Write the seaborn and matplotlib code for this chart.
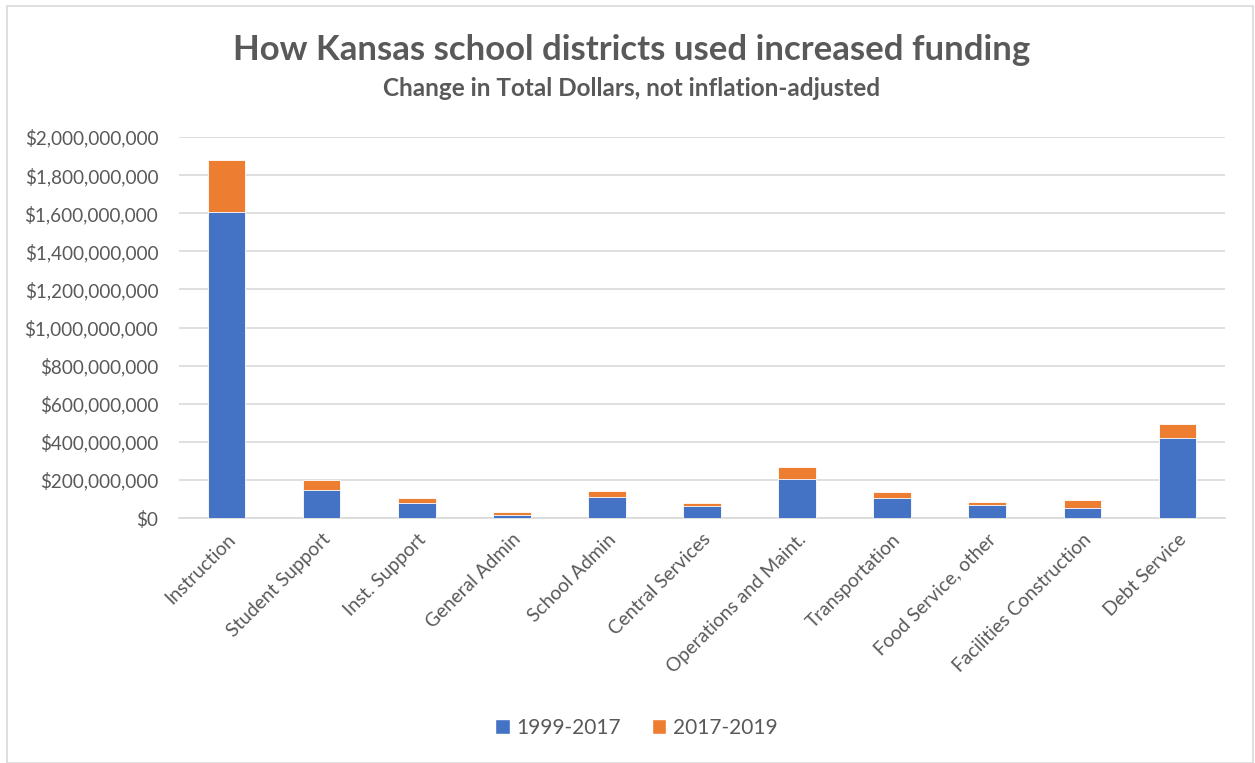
import numpy as np
import pandas as pd
import seaborn as sns
import matplotlib.pyplot as plt
from matplotlib.patches import Patch, Rectangle
from matplotlib.ticker import FuncFormatter

categories = ['Instruction', 'Student Support', 'Inst. Support', 'General Admin',
              'School Admin', 'Central Services', 'Operations and Maint.',
              'Transportation', 'Food Service, other', 'Facilities Construction',
              'Debt Service']
# dollars
change_1999_2017 = [1606e6, 145e6, 79e6, 18e6, 109e6, 63e6, 207e6, 105e6, 67e6, 52e6, 420e6]
change_2017_2019 = [275e6, 55e6, 24e6, 12e6, 31e6, 14e6, 63e6, 31e6, 19e6, 41e6, 73e6]
series_names = ['1999-2017', '2017-2019']

df = pd.DataFrame({'category': categories,
                   'a': change_1999_2017,
                   'b': change_2017_2019})
df['total'] = df['a'] + df['b']

sns.set_theme(style='white')
plt.rcParams['font.family'] = ['Lato', 'DejaVu Sans']

blue = '#4472C4'
orange = '#ED7D31'
grey = '#595959'

fig = plt.figure(figsize=(12.55, 7.63), dpi=100)
ax = fig.add_axes([179 / 1255, 1 - 518 / 763, (1225 - 179) / 1255, (518 - 137) / 763])

# stacked: draw totals in orange, then the first period in blue over them
sns.barplot(data=df, x='category', y='total', color=orange, width=0.395,
            saturation=1, ax=ax, zorder=2)
sns.barplot(data=df, x='category', y='a', color=blue, width=0.395,
            saturation=1, ax=ax, zorder=3)
for p in ax.patches:
    p.set_edgecolor('white')
    p.set_linewidth(0.6)

ax.set_ylim(0, 2e9)
ax.set_yticks(np.arange(0, 2.0001e9, 2e8))
ax.yaxis.set_major_formatter(FuncFormatter(lambda v, _: f'${v:,.0f}'))
ax.grid(axis='y', color='#D9D9D9', linewidth=1.2, zorder=0)
ax.set_axisbelow(True)
for s in ['top', 'right', 'left']:
    ax.spines[s].set_visible(False)
ax.spines['bottom'].set_color('#D9D9D9')
ax.spines['bottom'].set_linewidth(1.2)
ax.set_xlim(-0.5, len(categories) - 0.5)
ax.set_xlabel('')
ax.set_ylabel('')
ax.tick_params(axis='y', length=0, pad=15, labelsize=13.6, labelcolor=grey)
ax.tick_params(axis='x', length=0, pad=9, labelsize=13.8, labelcolor=grey)
plt.setp(ax.get_xticklabels(), rotation=45, ha='right', rotation_mode='anchor')

fig.text(0.503, 1 - 50 / 763, 'How Kansas school districts used increased funding',
         ha='center', va='center', fontsize=25, fontweight='bold', color=grey)
fig.text(0.503, 1 - 88 / 763, 'Change in Total Dollars, not inflation-adjusted',
         ha='center', va='center', fontsize=17.5, fontweight='bold', color=grey)

handles = [Patch(facecolor=blue, label=series_names[0]),
           Patch(facecolor=orange, label=series_names[1])]
fig.legend(handles=handles, loc='center', bbox_to_anchor=(0.507, 1 - 728 / 763),
           ncol=2, frameon=False, fontsize=15, handlelength=0.7, handleheight=0.7,
           handletextpad=0.3, columnspacing=1.5, labelcolor=grey)

# outer chart frame
fig.patches.append(Rectangle((7 / 1255, 0), 1246 / 1255, 1 - 6 / 763,
                             transform=fig.transFigure, fill=False,
                             edgecolor='#D9D9D9', linewidth=1.2))

fig.savefig('out.png', dpi=100)
